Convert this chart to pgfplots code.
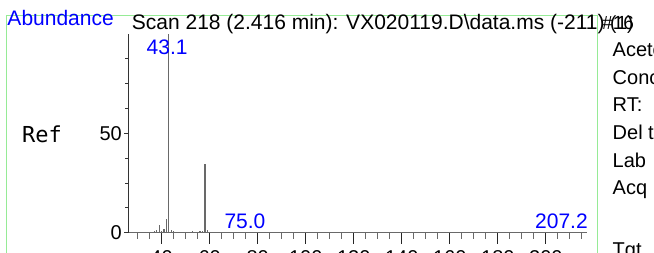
\documentclass[border=0pt]{standalone}
\usepackage{fontspec}
\setmainfont{Liberation Sans}
\newfontfamily\monof{DejaVu Sans Mono}
\usepackage{pgfplots}
\pgfplotsset{compat=1.18}
\definecolor{framegreen}{RGB}{150,235,150}
\definecolor{bargray}{RGB}{105,105,105}
\begin{document}
\begin{tikzpicture}[x=1pt,y=1pt]
\useasboundingbox (0,0) rectangle (654,252);
\clip (0,0) rectangle (654,252);
\draw[framegreen, line width=1pt] (6.5,-10) -- (6.5,236) -- (597,236) -- (597,-10);
% data axis with x ticks
\begin{axis}[
 at={(128pt,19.3pt)}, anchor=south west,
 scale only axis, width=458.7pt, height=198.8pt,
 xmin=26, xmax=217, ymin=0, ymax=100,
 axis x line*=bottom, axis y line=none,
 x axis line style={-, line width=1.6pt, color=bargray},
 xtick={40,60,...,200}, minor xtick={30,35,...,215},
 ytick=\empty,
 tick align=outside,
 major tick length=11pt, minor tick length=6pt,
 every tick/.style={line width=1pt, color=black!85},
 minor tick style={line width=0.9pt, color=bargray},
 /pgf/number format/assume math mode=true,
 xticklabel style={font=\fontsize{20}{24}\selectfont, inner sep=0pt, yshift=-7pt},
 clip=false,
]
\addplot[ycomb, color=bargray, line width=1.3pt, mark=none] coordinates {
 (37,0.8) (38,1.6) (39,3.9) (40,0.9) (41,1.9) (42,6.9) (43,100) (44,1.4) (45,0.8)
 (53,0.7) (56,0.8) (57,0.9) (58,34.6) (59,1.2) (75,0.3) (207,0.3)
};
\node[blue, anchor=base, font=\fontsize{21}{25}\selectfont] at (axis cs:42.3,89.4) {43.1};
\node[blue, anchor=base, font=\fontsize{21}{25}\selectfont] at (axis cs:74.7,1.9) {75.0};
\node[blue, anchor=base, font=\fontsize{21}{25}\selectfont] at (axis cs:206.5,1.9) {207.2};
\end{axis}
% y axis overlay
\begin{axis}[
 at={(128pt,19.3pt)}, anchor=south west,
 scale only axis, width=458.7pt, height=198.8pt,
 xmin=26, xmax=217, ymin=0, ymax=100,
 axis x line=none, axis y line*=left,
 y axis line style={-, line width=0.9pt, color=black!80},
 xtick=\empty,
 ytick={0,50}, minor ytick={12.5,25,37.5,62.5,75,87.5},
 tick align=outside,
 major tick length=4pt, minor tick length=3pt,
 every tick/.style={line width=0.8pt, color=black!80},
 /pgf/number format/assume math mode=true,
 yticklabel style={font=\fontsize{20}{24}\selectfont, inner sep=0pt, xshift=-2pt},
]
\addplot[draw=none] coordinates {(30,0)};
\end{axis}
\node[anchor=base west, inner sep=0pt, font=\monof\fontsize{22}{26}\selectfont] at (22,109) {Ref};
\node[anchor=base west, blue, inner sep=0pt, font=\fontsize{21}{25}\selectfont] at (7.3,226) {Abundance};
\node[anchor=base west, inner sep=0pt, font=\fontsize{21}{25}\selectfont] at (131.7,222) {Scan 218 (2.416 min): VX020119.D\textbackslash data.ms (-211)};
\node[anchor=base west, inner sep=0pt, font=\fontsize{19}{23}\selectfont] at (602,222) {\#16};
\node[anchor=base west, inner sep=0pt, font=\fontsize{19}{23}\selectfont] at (610,222) {(1)};
\begin{scope}[every node/.style={anchor=base west, inner sep=0pt, font=\fontsize{20}{24}\selectfont}]
\node at (612.5,195.5) {Acetone};
\node at (612.5,167.8) {Conc};
\node at (612.5,140.1) {RT:};
\node at (612.5,112.4) {Del t};
\node at (612.5,84.7) {Lab};
\node at (612.5,57) {Acq};
\node at (612.5,-4) {Tgt};
\end{scope}
\end{tikzpicture}
\end{document}
